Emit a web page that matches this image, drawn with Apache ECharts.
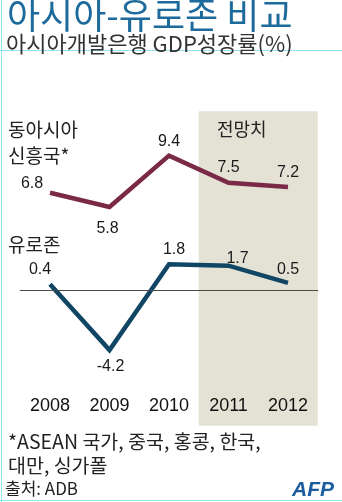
<!DOCTYPE html>
<html>
<head>
<meta charset="utf-8">
<style>
  html, body { margin: 0; padding: 0; background: #ffffff; }
  #chart { width: 342px; height: 502px; }
</style>
<script src="https://cdn.jsdelivr.net/npm/echarts@6/dist/echarts.min.js"></script>
</head>
<body>
<div id="chart"></div>
<script>
// GDP growth, % (ADB); 2011-2012 are forecasts
const years = ['2008', '2009', '2010', '2011', '2012'];
const eastAsia = [6.8, 5.8, 9.4, 7.5, 7.2];
const eurozone = [0.4, -4.2, 1.8, 1.7, 0.5];
const forecastYears = ['2011', '2012'];

// label placement per point: [position, dx, dy]
const eastAsiaLabelPos = [['top', -18, 4], ['bottom', -2, 8], ['top', 0, 0], ['top', 0, -2], ['top', 0, -1]];
const eurozoneLabelPos = [['top', -10, -1], ['bottom', 1, 3], ['top', 5, -1], ['top', 9, 6], ['top', 0, 0]];

const KR = '"Noto Sans CJK KR", "Noto Sans", sans-serif';
const NUM = '"Liberation Sans", Arial, sans-serif';

function withLabels(values, pos) {
  return values.map((v, i) => ({
    value: v,
    label: { position: pos[i][0], offset: [pos[i][1], pos[i][2]] }
  }));
}

// forecast band spans whole category slots, on a hidden index axis
const bandStart = years.indexOf(forecastYears[0]) - 0.5;
const bandEnd = years.indexOf(forecastYears[forecastYears.length - 1]) + 0.5;

const chart = echarts.init(document.getElementById('chart'), null, { renderer: 'canvas' });

const lineCommon = {
  type: 'line',
  symbol: 'circle',
  symbolSize: 1,
  itemStyle: { color: 'rgba(0,0,0,0)' },
  label: { show: true, fontSize: 16, fontFamily: NUM, color: '#1a1a1a', distance: 5 },
  emphasis: { disabled: true },
  animation: false
};

chart.setOption({
  animation: false,
  grid: { left: 20.25, top: 111.25, width: 297.5, height: 314.6 },
  xAxis: [
    {
      type: 'category', data: years, boundaryGap: true, z: 4,
      axisLine: { onZero: true, lineStyle: { color: '#4a4a4a', width: 1 } },
      axisTick: { show: false }, axisLabel: { show: false }, splitLine: { show: false }
    },
    {
      type: 'category', data: years, boundaryGap: true, position: 'bottom', z: 5,
      axisLine: { show: false, onZero: false }, axisTick: { show: false },
      axisLabel: { inside: true, margin: 11, fontSize: 18, color: '#111', fontFamily: NUM }
    },
    {
      type: 'value', min: -0.5, max: years.length - 0.5, show: false
    }
  ],
  yAxis: {
    type: 'value', min: -9.5, max: 12.5, show: false,
    splitLine: { show: false }
  },
  series: [
    {
      type: 'line', xAxisIndex: 2, data: [], z: 0, silent: true,
      markArea: {
        silent: true,
        itemStyle: { color: '#e3e2d4' },
        data: [[{ xAxis: bandStart }, { xAxis: bandEnd }]]
      }
    },
    Object.assign({}, lineCommon, {
      name: '동아시아 신흥국',
      data: withLabels(eastAsia, eastAsiaLabelPos),
      lineStyle: { color: '#7a2946', width: 4.5, cap: 'butt', join: 'miter' },
      z: 3
    }),
    Object.assign({}, lineCommon, {
      name: '유로존',
      data: withLabels(eurozone, eurozoneLabelPos),
      lineStyle: { color: '#114564', width: 4.5, cap: 'butt', join: 'miter' },
      z: 3
    })
  ],
  graphic: [
    // frame lines
    { type: 'line', z: 100, shape: { x1: 1.5, y1: 0, x2: 1.5, y2: 502 }, style: { stroke: '#8fe2ee', lineWidth: 1 } },
    { type: 'line', z: 100, shape: { x1: 0, y1: 50.5, x2: 342, y2: 50.5 }, style: { stroke: '#8fe2ee', lineWidth: 1 } },
    { type: 'line', z: 100, shape: { x1: 0, y1: 500.5, x2: 342, y2: 500.5 }, style: { stroke: '#8fe2ee', lineWidth: 1 } },
    // headings
    { type: 'text', z: 100, x: 7, y: -3, style: { text: '아시아-유로존 비교', font: '36px ' + KR, fill: '#1d6a9c', verticalAlign: 'top' } },
    { type: 'text', z: 100, x: 6, y: 33, style: { text: '아시아개발은행 GDP성장률(%)', font: '22px ' + KR, fill: '#333333', verticalAlign: 'top' } },
    // series names
    { type: 'text', z: 100, x: 8, y: 117, style: { text: '동아시아\n신흥국*', font: '19px ' + KR, lineHeight: 26, fill: '#222', verticalAlign: 'top' } },
    { type: 'text', z: 100, x: 8, y: 235, style: { text: '유로존', font: '19px ' + KR, fill: '#222', verticalAlign: 'top' } },
    { type: 'text', z: 100, x: 217, y: 120, style: { text: '전망치', font: '18px ' + KR, fill: '#222', verticalAlign: 'top' } },
    // footnotes
    { type: 'text', z: 100, x: 8, y: 430, style: { text: '*ASEAN 국가, 중국, 홍콩, 한국,\n대만, 싱가폴', font: '19.5px ' + KR, lineHeight: 24, fill: '#222', verticalAlign: 'top' } },
    { type: 'text', z: 100, x: 5, y: 480, style: { text: '출처: ADB', font: '17px ' + KR, fill: '#222', verticalAlign: 'top' } },
    { type: 'text', z: 100, x: 292, y: 480, style: { text: 'AFP', font: 'italic bold 21px "Liberation Sans", Arial, sans-serif', fill: '#1b5c9e', verticalAlign: 'top' } }
  ]
});
</script>
</body>
</html>
